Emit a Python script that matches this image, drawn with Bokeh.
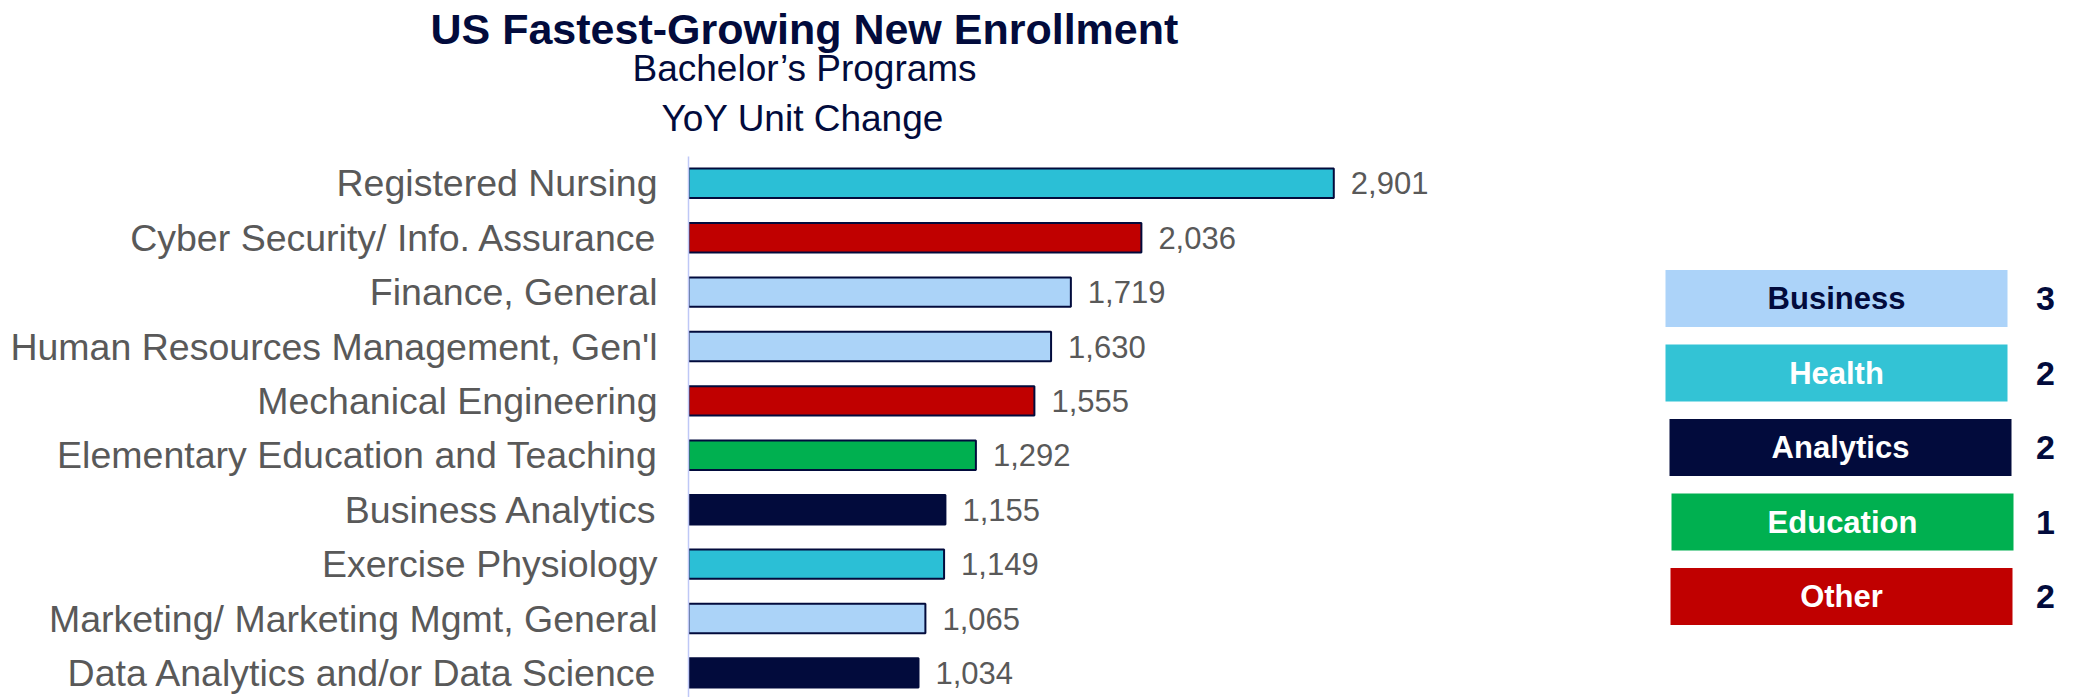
from bokeh.plotting import figure
from bokeh.models import ColumnDataSource, Range1d, FixedTicker, Title
from bokeh.layouts import row
from bokeh.core.properties import value
from bokeh.embed import file_html
from bokeh.resources import INLINE

# ---------------- data ----------------
programs = [
    "Registered Nursing",
    "Cyber Security/ Info. Assurance",
    "Finance, General",
    "Human Resources Management, Gen'l",
    "Mechanical Engineering",
    "Elementary Education and Teaching",
    "Business Analytics",
    "Exercise Physiology",
    "Marketing/ Marketing Mgmt, General",
    "Data Analytics and/or Data Science",
]
yoy_change = [2901, 2036, 1719, 1630, 1555, 1292, 1155, 1149, 1065, 1034]
program_group = ["Health", "Other", "Business", "Business", "Other",
                 "Education", "Analytics", "Health", "Business", "Analytics"]

groups = ["Business", "Health", "Analytics", "Education", "Other"]
group_counts = [3, 2, 2, 1, 2]

# ---------------- styles ----------------
NAVY = "#020b3c"
GRAY = "#595959"
bar_colors = {"Business": "#abd3f8", "Health": "#2bbfd6", "Analytics": "#020b3c",
              "Education": "#00b050", "Other": "#c00000"}
legend_colors = {"Business": "#acd3f9", "Health": "#33c3d5", "Analytics": "#020b3c",
                 "Education": "#00b050", "Other": "#c00000"}
legend_text_colors = {"Business": NAVY, "Health": "white", "Analytics": "white",
                      "Education": "white", "Other": "white"}
legend_box_x = [228, 228, 232, 234, 233]
FONT = "Liberation Sans"

H = 697
W_MAIN = 1608
W_LEG = 474
FRAME_LEFT = 688
FRAME_TOP = 156
STEP = 54.4
FIRST = 182.8 - FRAME_TOP  # px from frame top to first bar centre

n = len(programs)
ypos = list(range(n))
frame_h = H - FRAME_TOP
y_top = -FIRST / STEP
y_bottom = y_top + frame_h / STEP

src = ColumnDataSource(dict(
    y=ypos,
    v=yoy_change,
    label=[f"{v:,}" for v in yoy_change],
    color=[bar_colors[g] for g in program_group],
))

p = figure(width=W_MAIN, height=H, output_backend="svg", toolbar_location=None,
           x_range=Range1d(0, 4136), y_range=Range1d(y_bottom, y_top),
           title=None, min_border_left=FRAME_LEFT, min_border_right=0,
           min_border_bottom=0, min_border_top=FRAME_TOP)
p.outline_line_color = None
p.xgrid.visible = False
p.ygrid.visible = False
p.xaxis.visible = False

p.hbar(y="y", right="v", left=0, height=0.54, source=src,
       fill_color="color", line_color=NAVY, line_width=2)
p.text(x="v", y="y", text="label", source=src, x_offset=17,
       text_baseline="middle", text_align="left", text_color=GRAY,
       text_font=value(FONT), text_font_size="31px")

ax = p.yaxis[0]
ax.ticker = FixedTicker(ticks=ypos)
ax.major_label_overrides = {i: name for i, name in zip(ypos, programs)}
ax.major_label_text_font = FONT
ax.major_label_text_font_size = "37.5px"
ax.major_label_text_color = GRAY
ax.major_label_standoff = 31
ax.major_tick_line_color = None
ax.minor_tick_line_color = None
ax.major_tick_out = 0
ax.axis_line_color = "#bfc8f7"
ax.axis_line_width = 1.5

# titles: added from the frame outward
for text, size, style, off, standoff in [
        ("YoY Unit Change", "37px", "normal", -27, 34.5),
        ("Bachelor\u2019s Programs", "37px", "normal", -56, -21.4),
        ("US Fastest-Growing New Enrollment", "43px", "bold", -258, 6.3)]:
    p.add_layout(Title(text=text, align="left", offset=off, standoff=standoff,
                       text_font_size=size, text_font_style=style,
                       text_color=NAVY, text_font=FONT), "above")

# ---------------- legend panel ----------------
leg = figure(width=W_LEG, height=H, output_backend="svg", toolbar_location=None,
             x_range=Range1d(0, W_LEG), y_range=Range1d(H, FRAME_TOP), title=None,
             min_border=0, min_border_top=FRAME_TOP)
leg.outline_line_color = None
leg.xaxis.visible = False
leg.yaxis.visible = False
leg.xgrid.visible = False
leg.ygrid.visible = False

LEG_FIRST = 298
LEG_STEP = 74.5
lsrc = ColumnDataSource(dict(
    x=legend_box_x,
    y=[LEG_FIRST + i * LEG_STEP for i in range(len(groups))],
    name=groups,
    count=[str(c) for c in group_counts],
    color=[legend_colors[g] for g in groups],
    tcolor=[legend_text_colors[g] for g in groups],
))
leg.rect(x="x", y="y", width=342, height=57, source=lsrc,
         fill_color="color", line_color=None)
leg.text(x="x", y="y", text="name", source=lsrc, text_align="center",
         text_baseline="middle", text_color="tcolor", text_font=value(FONT),
         text_font_size="31px", text_font_style="bold")
leg.text(x=437, y="y", text="count", source=lsrc, text_align="center",
         text_baseline="middle", text_color=NAVY, text_font=value(FONT),
         text_font_size="34px", text_font_style="bold")

layout = row(p, leg)
open("out.html", "w").write(file_html(layout, INLINE))
